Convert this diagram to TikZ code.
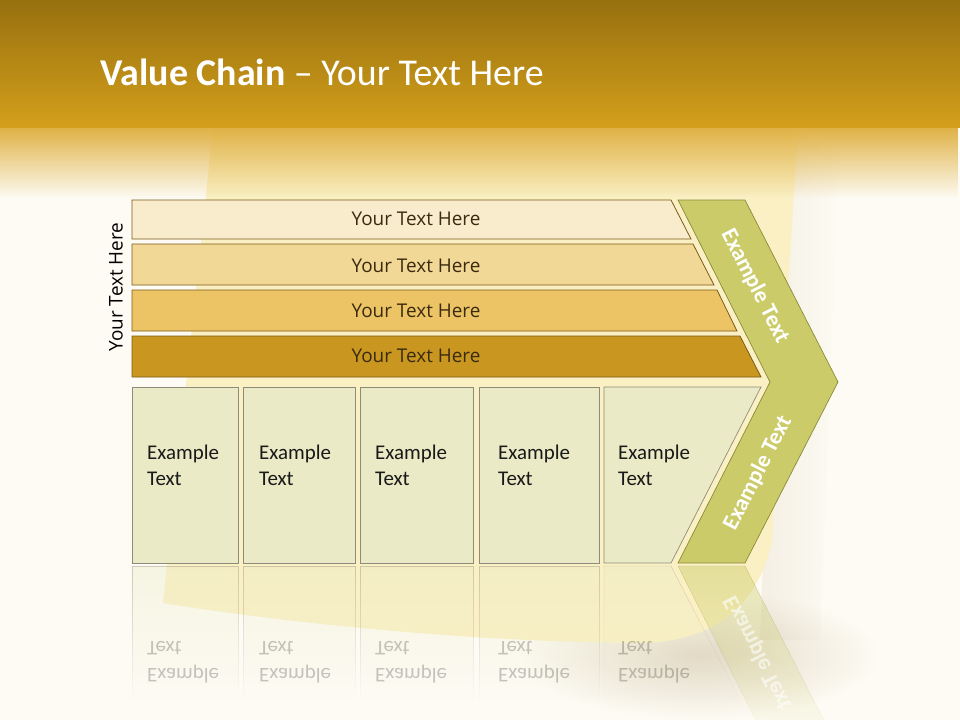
\documentclass[tikz,border=0pt]{standalone}
\usepackage{fontspec}
\setmainfont{Carlito}
\newfontfamily\segfont{Open Sans}
\usepackage{graphicx}
\usepackage{tikz}
\usetikzlibrary{positioning,fadings}

\definecolor{bgcream}{HTML}{FDFBF3}
\definecolor{hdtop}{HTML}{97700F}
\definecolor{hdbot}{HTML}{D4A01B}
\definecolor{hdfade}{HTML}{E0B246}
\definecolor{paper}{HTML}{FAF0C4}
\definecolor{barline}{HTML}{7B5B16}
\definecolor{barA}{HTML}{F9ECCD}
\definecolor{barB}{HTML}{F2D897}
\definecolor{barC}{HTML}{ECC466}
\definecolor{barD}{HTML}{C9961F}
\definecolor{bartextcol}{HTML}{3B2B0E}
\definecolor{chevfill}{HTML}{CBCB69}
\definecolor{chevline}{HTML}{8A8A3B}
\definecolor{boxfill}{HTML}{EAEAC6}
\definecolor{boxline}{HTML}{8D8C7A}
\definecolor{shadowcol}{HTML}{D9CDB6}

\tikzfading[name=fadedown, top color=transparent!0, bottom color=transparent!100]
\tikzfading[name=fadeside, left color=transparent!75, right color=transparent!100]

\begin{document}
\begin{tikzpicture}[
    x=1bp, y=-1bp,
    bar/.style={draw=barline, line width=0.8pt},
    bartext/.style={font=\segfont\fontsize{19}{22}\selectfont, text=bartextcol},
    box/.style={draw=boxline, fill=boxfill, line width=0.7pt},
    boxtext/.style={font=\fontsize{21}{26}\selectfont, align=left, anchor=west, inner sep=0pt, text=black!90},
    armtext/.style={font=\bfseries\fontsize{23}{26}\selectfont, text=white, inner sep=1pt},
    reflbox/.style={draw=boxline, fill=boxfill, fill opacity=0.35, draw opacity=0.4, path fading=fadedown, fit fading=true},
    refltext/.style={font=\fontsize{21}{26}\selectfont, anchor=west, inner sep=0pt, text=black, text opacity=0.22}
]
    \useasboundingbox (0,0) rectangle (960,720);

    % Bakgrunn, papirark og topplinje
    \fill[bgcream] (0,0) rectangle (960,720);
    \shade[inner color=shadowcol!75!bgcream, outer color=bgcream] (700,655) ellipse (180 and 65);
    \fill[shadowcol, path fading=fadeside, fit fading=true] (780,128) -- (840,128) -- (820,640) -- (760,640) -- cycle;
    \fill[paper] (213,128) -- (798,128) -- (772,540)
        .. controls (760,600) and (720,642) .. (640,643)
        .. controls (480,642) and (300,625) .. (163,603) -- cycle;
    \shade[top color=hdtop, bottom color=hdbot] (0,0) rectangle (960,128);
    \fill[hdfade, path fading=fadedown, fit fading=true] (0,128) rectangle (960,198);
    \node[anchor=base west, text=white, font=\fontsize{38}{44}\selectfont] (title) at (97,86)
        {\textbf{Value Chain} – Your Text Here};

    % Fire stolper med tekst
    \path[bar, fill=barA] (132,200) -- (671,200) -- (691,239) -- (132,239) -- cycle;
    \path[bar, fill=barB] (132,244) -- (693,244) -- (714,285) -- (132,285) -- cycle;
    \path[bar, fill=barC] (132,290) -- (717,290) -- (737,331) -- (132,331) -- cycle;
    \path[bar, fill=barD] (132,336) -- (740,336) -- (761,377) -- (132,377) -- cycle;
    \node[bartext] (bar1) at (416,219) {Your Text Here};
    \node[bartext] (bar2) at (416,266) {Your Text Here};
    \node[bartext] (bar3) at (416,311) {Your Text Here};
    \node[bartext] (bar4) at (416,356) {Your Text Here};
    \node[bartext, text=black, rotate=90] (side) at (116,287) {Your Text Here};

    % Pilspiss (chevron)
    \path[draw=chevline, fill=chevfill, line width=0.7pt]
        (678,200) -- (745,200) -- (838,382) -- (745,563) -- (678,563) -- (770,382) -- cycle;
    \node[armtext, rotate=-63] (armup) at (755,286) {Example Text};
    \node[armtext, rotate=63] (armdown) at (758,473) {Example Text};

    % Fem bokser
    \path[box] (132,387) rectangle (238,563);
    \path[box] (243,387) rectangle (355,563);
    \path[box] (360,387) rectangle (473,563);
    \path[box] (479,387) rectangle (599,563);
    \path[box] (604,387) -- (761,387) -- (671,563) -- (604,563) -- cycle;
    \node[boxtext] (box1) at (147,465) {Example\\Text};
    \node[boxtext] (box2) at (259,465) {Example\\Text};
    \node[boxtext] (box3) at (375,465) {Example\\Text};
    \node[boxtext] (box4) at (498,465) {Example\\Text};
    \node[boxtext] (box5) at (618,465) {Example\\Text};

    % Speilbilde
    \path[reflbox] (132,566) rectangle (238,700);
    \path[reflbox] (243,566) rectangle (355,700);
    \path[reflbox] (360,566) rectangle (473,700);
    \path[reflbox] (479,566) rectangle (599,700);
    \path[reflbox] (604,566) -- (671,566) -- (740,700) -- (604,700) -- cycle;
    \path[draw=chevline, fill=chevfill, fill opacity=0.45, draw opacity=0.4, path fading=fadedown, fit fading=true]
        (678,566) -- (745,566) -- (838,748) -- (770,748) -- cycle;
    \node[armtext, rotate=-63, text opacity=0.6] (armrefl) at (758,653) {\scalebox{1}[-1]{Example Text}};
    \node[refltext] (r1a) at (147,648) {\scalebox{1}[-1]{Text}};
    \node[refltext] (r1b) at (147,674) {\scalebox{1}[-1]{Example}};
    \node[refltext] (r2a) at (259,648) {\scalebox{1}[-1]{Text}};
    \node[refltext] (r2b) at (259,674) {\scalebox{1}[-1]{Example}};
    \node[refltext] (r3a) at (375,648) {\scalebox{1}[-1]{Text}};
    \node[refltext] (r3b) at (375,674) {\scalebox{1}[-1]{Example}};
    \node[refltext] (r4a) at (498,648) {\scalebox{1}[-1]{Text}};
    \node[refltext] (r4b) at (498,674) {\scalebox{1}[-1]{Example}};
    \node[refltext] (r5a) at (618,648) {\scalebox{1}[-1]{Text}};
    \node[refltext] (r5b) at (618,674) {\scalebox{1}[-1]{Example}};

\end{tikzpicture}
\end{document}
